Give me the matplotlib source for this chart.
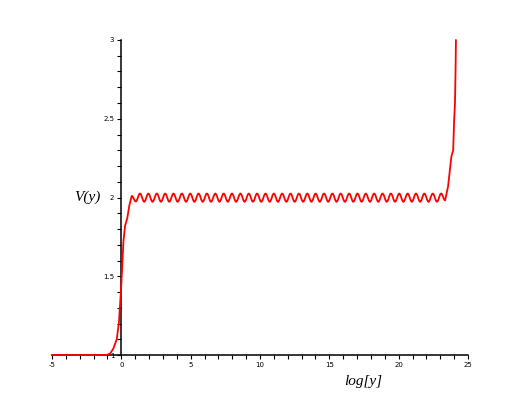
import matplotlib
matplotlib.use("Agg")
import matplotlib.pyplot as plt
from matplotlib.path import Path
from matplotlib.patches import PathPatch
from matplotlib.ticker import MultipleLocator

# ── data ──────────────────────────────────────────────────────────
# rise from the lower plateau
rise_x = [-5.0, -1.5, -1.05, -0.8, -0.58, -0.33, -0.17, -0.02, 0.03,
          0.15, 0.27, 0.43, 0.58, 0.75]
rise_y = [1.0, 1.0, 1.0, 1.01, 1.04, 1.10, 1.21, 1.42, 1.50,
          1.72, 1.82, 1.87, 1.95, 2.01]

# oscillation around V = 2 (alternating troughs and peaks)
osc_x = [1.04, 1.35, 1.65, 1.95, 2.25, 2.56, 2.86, 3.16, 3.46, 3.76,
         4.06, 4.37, 4.67, 4.97, 5.27, 5.57, 5.87, 6.17, 6.47, 6.78,
         7.08, 7.38, 7.68, 7.98, 8.28, 8.59, 8.89, 9.19, 9.49, 9.79,
         10.09, 10.40, 10.70, 11.00, 11.30, 11.60, 11.90, 12.20, 12.50, 12.81,
         13.11, 13.41, 13.71, 14.01, 14.31, 14.62, 14.92, 15.22, 15.52, 15.82,
         16.12, 16.43, 16.73, 17.03, 17.33, 17.63, 17.93, 18.23, 18.53, 18.84,
         19.14, 19.44, 19.74, 20.04, 20.34, 20.65, 20.95, 21.25, 21.55, 21.85,
         22.15, 22.46, 22.76, 23.06, 23.35]
osc_y = [1.975] + [2.025, 1.973] * 36 + [2.025, 1.982]

# final blow-up
tail_x = [23.56, 23.80, 23.93, 24.00, 24.06, 24.10, 24.13]
tail_y = [2.07, 2.26, 2.30, 2.49, 2.60, 2.80, 3.0]

# ── build the curve: straight segments + smooth wiggles ───────────
verts = [(rise_x[0], rise_y[0])]
codes = [Path.MOVETO]
for x, y in zip(rise_x[1:], rise_y[1:]):
    verts.append((x, y))
    codes.append(Path.LINETO)

prev_x, prev_y = rise_x[-1], rise_y[-1]
for x, y in zip(osc_x, osc_y):
    d = x - prev_x
    verts += [(prev_x + 0.364 * d, prev_y), (x - 0.364 * d, y), (x, y)]
    codes += [Path.CURVE4] * 3
    prev_x, prev_y = x, y

for x, y in zip(tail_x, tail_y):
    verts.append((x, y))
    codes.append(Path.LINETO)

# ── figure ────────────────────────────────────────────────────────
fig = plt.figure(figsize=(5.21, 3.96), dpi=100)
ax = fig.add_axes([0.0998, 0.1035, 0.7985, 0.7955])

ax.add_patch(PathPatch(Path(verts, codes), facecolor="none",
                       edgecolor="red", lw=1.3, zorder=5, clip_on=False,
                       capstyle="round", joinstyle="round"))

ax.set_xlim(-5, 25)
ax.set_ylim(1, 3)

ax.spines["top"].set_visible(False)
ax.spines["right"].set_visible(False)
ax.spines["left"].set_position(("data", 0))
ax.spines["bottom"].set_position(("data", 1))
for s in ("left", "bottom"):
    ax.spines[s].set_linewidth(1.1)

ax.xaxis.set_minor_locator(MultipleLocator(1))
ax.yaxis.set_minor_locator(MultipleLocator(0.1))
ax.set_xticks([-5, 0, 5, 10, 15, 20, 25])
ax.set_xticklabels(["-5", "0", "5", "10", "15", "20", "25"])
ax.set_yticks([1, 1.5, 2, 2.5, 3])
ax.set_yticklabels(["1", "1.5", "2", "2.5", "3"])

ax.tick_params(which="major", direction="out", length=3, width=0.8,
               labelsize=5, pad=2)
ax.tick_params(which="minor", direction="out", length=3, width=0.8)

ax.text(-1.5, 2.0, "V(y)", fontsize=11, family="Liberation Serif",
        style="italic", ha="right", va="center")
ax.text(16.1, 0.83, "log[y]", fontsize=11, family="Liberation Serif",
        style="italic", ha="left", va="center")

fig.savefig("out.png", dpi=100)
